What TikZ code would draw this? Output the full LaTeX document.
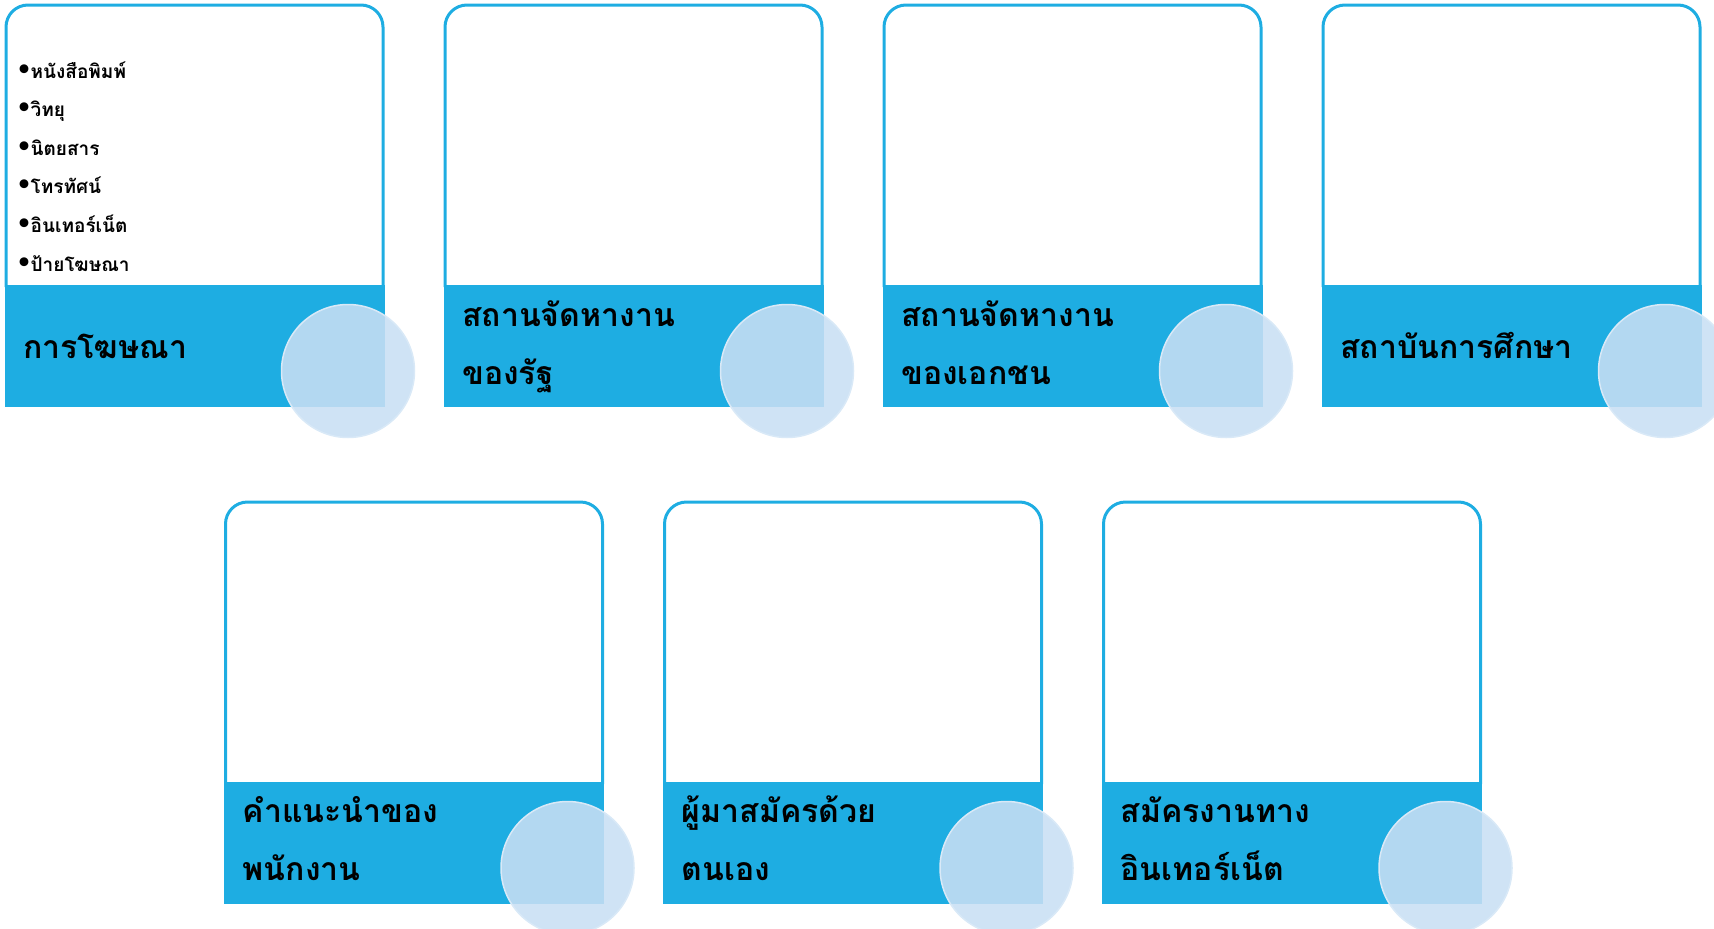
\documentclass[tikz,border=0pt]{standalone}
\usepackage{fontspec}
\newfontfamily\thaifont[Script=Thai]{Loma}
\newfontfamily\symfont{DejaVu Sans}
\definecolor{cardblue}{HTML}{1EADE2}
\definecolor{circfill}{HTML}{C8DFF4}
\definecolor{circline}{HTML}{D9E9F7}
\newcommand\bulmark{{\symfont\fontsize{25}{38.6}\selectfont\kern-1pt•\kern-1.5pt}}
\tikzset{
  x=1pt, y=-1pt,
  cardline/.style={draw=cardblue, line width=3pt},
  bandfill/.style={fill=cardblue},
  circ/.style={circle, fill=circfill, fill opacity=0.88, draw=circline, line width=1.5pt, minimum size=133pt, inner sep=0pt},
  lab/.style={anchor=base west, align=left, inner sep=0pt, font=\thaifont\bfseries\fontsize{32}{58}\selectfont},
  bul/.style={anchor=base west, align=left, inner sep=0pt, font=\thaifont\bfseries\fontsize{19}{38.6}\selectfont}
}
\newcommand\mkcard[5]{% name, left, top, last-baseline offset, label
  \draw[cardline, rounded corners=22pt] (#2,#3+282) |- (#2+377,#3) -- (#2+377,#3+282);
  \fill[bandfill] (#2-1.5,#3+280) rectangle (#2+378.5,#3+402);
  \node[lab] (#1) at (#2+17,#3+#4) {#5};
  \node[circ] (#1c) at (#2+342,#3+366) {};
}
\begin{document}
\begin{tikzpicture}
\useasboundingbox (0,0) rectangle (1714,929);
\clip (0,0) rectangle (1714,929);
\mkcard{c1}{6}{5}{353}{การโฆษณา}
\mkcard{c2}{445}{5}{379}{สถานจัดหางาน\\ของรัฐ}
\mkcard{c3}{884}{5}{379}{สถานจัดหางาน\\ของเอกชน}
\mkcard{c4}{1323}{5}{353}{สถาบันการศึกษา}
\mkcard{c5}{225.5}{502}{378}{คำแนะนำของ\\พนักงาน}
\mkcard{c6}{664.5}{502}{378}{ผู้มาสมัครด้วย\\ตนเอง}
\mkcard{c7}{1103.5}{502}{378}{สมัครงานทาง\\อินเทอร์เน็ต}
\node[bul] (list) at (17,271) {\bulmark หนังสือพิมพ์\\\bulmark วิทยุ\\\bulmark นิตยสาร\\\bulmark โทรทัศน์\\\bulmark อินเทอร์เน็ต\\\bulmark ป้ายโฆษณา};
\end{tikzpicture}
\end{document}
